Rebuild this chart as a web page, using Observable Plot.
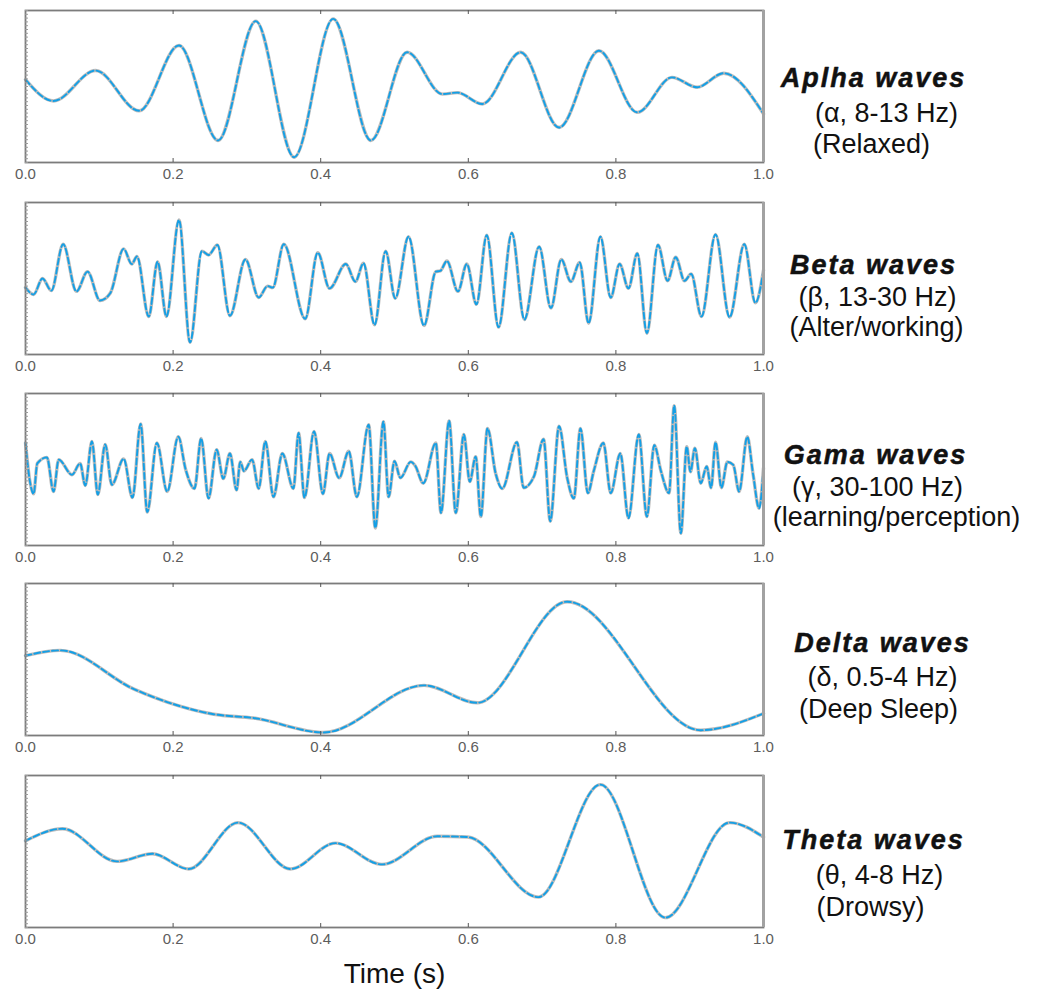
<!DOCTYPE html>
<html>
<head>
<meta charset="utf-8">
<script src="https://cdn.jsdelivr.net/npm/d3@7"></script>
<script src="https://cdn.jsdelivr.net/npm/@observablehq/plot@0.6"></script>
<style>
  html, body { margin: 0; padding: 0; background: #fff; overflow: hidden; }
  #chart { position: relative; width: 1037px; height: 990px; }
  #chart > svg { position: absolute; left: 0; }
</style>
</head>
<body>
<div id="chart"></div>
<script>
// ---- EEG traces: time (s) and normalised amplitude at the turning points ----
const alphaT = [0, 0.038, 0.095, 0.154, 0.208, 0.261, 0.312, 0.364, 0.417, 0.468, 0.517, 0.565, 0.585, 0.619, 0.671, 0.723, 0.777, 0.829, 0.876, 0.910, 0.946, 1.0];
const alphaV = [0.09, -0.19, 0.21, -0.32, 0.54, -0.71, 0.86, -0.93, 0.89, -0.71, 0.45, -0.10, -0.08, -0.23, 0.45, -0.54, 0.47, -0.34, 0.12, -0.01, 0.175, -0.36];

const betaT = [0, 0.011, 0.023, 0.035, 0.051, 0.069, 0.084, 0.101, 0.115, 0.133, 0.144, 0.151, 0.167, 0.179, 0.191, 0.208, 0.223, 0.239, 0.248, 0.260, 0.277, 0.298, 0.316, 0.328, 0.335, 0.350, 0.379, 0.396, 0.412, 0.434, 0.447, 0.458, 0.473, 0.488, 0.501, 0.519, 0.540, 0.556, 0.562, 0.571, 0.586, 0.598, 0.611, 0.625, 0.641, 0.659, 0.676, 0.696, 0.712, 0.726, 0.739, 0.751, 0.763, 0.779, 0.793, 0.805, 0.817, 0.829, 0.842, 0.857, 0.870, 0.881, 0.893, 0.902, 0.916, 0.935, 0.954, 0.974, 0.989, 1.0];
const betaV = [-0.12, -0.21, 0.0, -0.16, 0.45, -0.17, 0.09, -0.29, -0.19, 0.39, 0.19, 0.29, -0.50, 0.22, -0.50, 0.77, -0.84, 0.36, 0.31, 0.44, -0.49, 0.25, -0.25, -0.10, -0.12, 0.45, -0.53, 0.34, -0.13, 0.19, -0.04, 0.20, -0.61, 0.36, -0.26, 0.55, -0.62, 0.09, 0.10, 0.23, -0.17, 0.19, -0.34, 0.57, -0.64, 0.60, -0.54, 0.42, -0.39, 0.25, -0.04, 0.21, -0.59, 0.55, -0.25, 0.19, -0.13, 0.33, -0.72, 0.44, -0.03, 0.28, -0.03, 0.06, -0.50, 0.58, -0.51, 0.45, -0.32, 0.11];

const gammaT = [0, 0.006, 0.011, 0.016, 0.029, 0.038, 0.045, 0.063, 0.074, 0.081, 0.090, 0.098, 0.108, 0.117, 0.133, 0.145, 0.156, 0.165, 0.178, 0.192, 0.207, 0.217, 0.229, 0.238, 0.248, 0.259, 0.268, 0.277, 0.286, 0.291, 0.296, 0.307, 0.316, 0.325, 0.336, 0.348, 0.363, 0.370, 0.378, 0.391, 0.403, 0.412, 0.425, 0.438, 0.449, 0.465, 0.474, 0.485, 0.492, 0.500, 0.508, 0.522, 0.528, 0.539, 0.556, 0.563, 0.574, 0.583, 0.594, 0.602, 0.610, 0.617, 0.626, 0.637, 0.646, 0.666, 0.675, 0.689, 0.702, 0.711, 0.723, 0.734, 0.743, 0.752, 0.762, 0.770, 0.783, 0.793, 0.806, 0.817, 0.831, 0.842, 0.852, 0.861, 0.872, 0.879, 0.888, 0.896, 0.901, 0.907, 0.915, 0.923, 0.929, 0.935, 0.943, 0.951, 0.959, 0.967, 0.978, 0.986, 0.994, 1.0];
const gammaV = [0.35, -0.16, -0.32, 0.08, 0.16, -0.29, 0.13, -0.07, 0.08, -0.21, 0.37, -0.33, 0.33, -0.20, 0.14, -0.37, 0.60, -0.56, 0.35, -0.29, 0.43, 0.0, -0.25, 0.41, -0.38, 0.26, -0.12, 0.21, -0.27, 0.10, -0.02, 0.13, -0.25, 0.37, -0.36, 0.21, -0.25, 0.48, -0.37, 0.50, -0.32, 0.21, -0.11, 0.24, -0.36, 0.59, -0.77, 0.63, -0.36, 0.11, -0.11, 0.10, 0.05, -0.18, 0.35, -0.57, 0.64, -0.57, 0.46, -0.16, 0.17, -0.62, 0.54, -0.05, -0.25, 0.36, -0.24, -0.09, 0.40, -0.68, 0.57, -0.11, -0.38, 0.54, -0.31, -0.02, 0.35, -0.31, 0.21, -0.64, 0.46, -0.62, 0.32, -0.02, -0.31, 0.84, -0.84, 0.30, -0.03, 0.28, -0.18, 0.04, -0.24, 0.36, -0.24, 0.10, 0.06, -0.29, 0.43, -0.07, -0.51, 0.02];

const deltaT = [0, 0.047, 0.147, 0.192, 0.255, 0.309, 0.404, 0.540, 0.612, 0.734, 0.915, 1.0];
const deltaV = [0.05, 0.12, -0.39, -0.56, -0.72, -0.77, -0.96, -0.34, -0.57, 0.76, -0.93, -0.71];

const thetaT = [0, 0.050, 0.124, 0.172, 0.221, 0.288, 0.359, 0.420, 0.483, 0.558, 0.599, 0.695, 0.779, 0.867, 0.954, 1.0];
const thetaV = [0.14, 0.30, -0.13, -0.03, -0.23, 0.38, -0.23, 0.11, -0.17, 0.20, 0.19, -0.60, 0.88, -0.87, 0.38, 0.19];

// ---- labels ----
const titles = ["Aplha waves", "Beta waves", "Gama waves", "Delta waves", "Theta waves"];
const bands  = ["(α, 8-13 Hz)", "(β, 13-30 Hz)", "(γ, 30-100 Hz)", "(δ, 0.5-4 Hz)", "(θ, 4-8 Hz)"];
const states = ["(Relaxed)", "(Alter/working)", "(learning/perception)", "(Deep Sleep)", "(Drowsy)"];
const xTicks = [0, 0.2, 0.4, 0.6, 0.8, 1.0];
const innerTicks = [0.2, 0.4, 0.6, 0.8];
const xLabel = "Time (s)";
const tickFormat = d3.format(".1f");

const series = [[alphaT, alphaV], [betaT, betaV], [gammaT, gammaV], [deltaT, deltaV], [thetaT, thetaV]];

// ---- layout ----
const W = 1037;
const frameLeft = 25, frameRight = 763, frameH = 152, padTop = 10;
const panelTop = [10, 202, 393, 583, 775];
const labelCx = [[873, 886, 871], [873, 877, 876], [875, 877, 896], [882, 882, 878], [873, 879, 870]];
const labelBase = [[76, 111, 142], [71, 103, 133], [70, 102, 132], [68, 102, 134], [73, 108, 140]];
const font = "'Liberation Sans', Arial, Helvetica, sans-serif";

const root = document.getElementById("chart");

series.forEach(([T, V], i) => {
  const data = T.map((t, j) => ({t, v: V[j]}));
  const last = i === series.length - 1;
  const top = panelTop[i] - padTop;
  const height = last ? 990 - top : 191;
  const cx = labelCx[i], by = labelBase[i];

  const marks = [
    // light grey underlay with the dashed blue trace on top
    Plot.line(data, {x: "t", y: "v", curve: "monotone-x", stroke: "#bcbcbc", strokeWidth: 3.4}),
    Plot.line(data, {x: "t", y: "v", curve: "monotone-x", stroke: "#139fe6", strokeWidth: 1.9, strokeDasharray: "6,3"}),
    // panel frame, short inward ticks, fine left-edge ticks
    Plot.frame({stroke: "#7c7c7c", strokeWidth: 1.8}),
    Plot.ruleX([1], {stroke: "#a2a2a2", strokeWidth: 3}),
    Plot.tickY(d3.range(-1, 1.0001, 0.05), {insetRight: frameRight - frameLeft - 3, stroke: "#9a9a9a", strokeWidth: 1}),
    Plot.tickX(innerTicks, {insetTop: frameH - 4, stroke: "#555", strokeWidth: 1}),
    Plot.tickX(innerTicks, {insetBottom: frameH - 4, stroke: "#555", strokeWidth: 1}),
    // time tick labels below each panel
    Plot.text(xTicks, {x: d => d, text: d => tickFormat(d), frameAnchor: "bottom", dy: 16, lineAnchor: "bottom", fontSize: 15, fill: "#5c5c5c"}),
    // right-hand description
    Plot.text([titles[i]], {text: d => d, frameAnchor: "top-left", dx: cx[0] - frameLeft, dy: by[0], textAnchor: "middle", lineAnchor: "bottom", fontSize: 27, fontWeight: "bold", fontStyle: "italic", fill: "#111", stroke: "#111", strokeWidth: 0.5}),
    Plot.text([bands[i]], {text: d => d, frameAnchor: "top-left", dx: cx[1] - frameLeft, dy: by[1], textAnchor: "middle", lineAnchor: "bottom", fontSize: 27, fill: "#111"}),
    Plot.text([states[i]], {text: d => d, frameAnchor: "top-left", dx: cx[2] - frameLeft, dy: by[2], textAnchor: "middle", lineAnchor: "bottom", fontSize: 27, fill: "#111"})
  ];
  if (last) {
    marks.push(Plot.text([xLabel], {text: d => d, frameAnchor: "bottom", dy: 55, lineAnchor: "bottom", fontSize: 28, fill: "#111"}));
  }

  const svg = Plot.plot({
    width: W,
    height,
    marginTop: padTop,
    marginBottom: height - padTop - frameH,
    marginLeft: frameLeft,
    marginRight: W - frameRight,
    x: {domain: [0, 1], axis: null},
    y: {domain: [-1, 1], axis: null},
    style: {fontFamily: font, background: "transparent", overflow: "visible"},
    marks
  });

  // slightly wider tracking for the bold titles
  svg.querySelectorAll("text").forEach(el => {
    if (el.textContent === titles[i]) el.setAttribute("letter-spacing", "2");
  });

  svg.style.top = top + "px";
  root.append(svg);
});
</script>
</body>
</html>
